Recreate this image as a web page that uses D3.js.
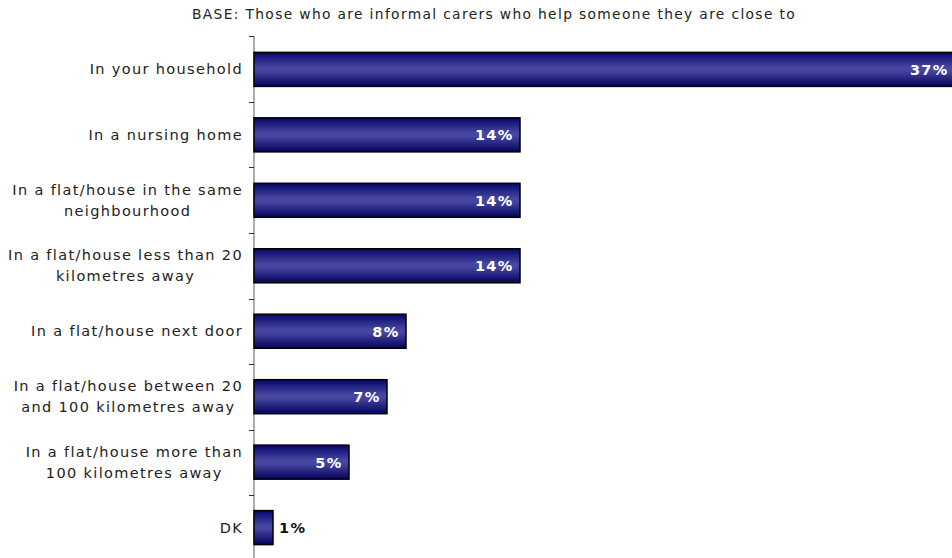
<!DOCTYPE html>
<html><head><meta charset="utf-8">
<script src="https://cdn.jsdelivr.net/npm/d3@7"></script>
<style>body{margin:0;background:#fff}svg{display:block}</style>
</head><body>
<script>
const title = "BASE: Those who are informal carers who help someone they are close to";
const categories = [
  ["In your household"],
  ["In a nursing home"],
  ["In a flat/house in the same", "neighbourhood"],
  ["In a flat/house less than 20", "kilometres away"],
  ["In a flat/house next door "],
  ["In a flat/house between 20", "and 100 kilometres away"],
  ["In a flat/house more than", "100 kilometres away"],
  ["DK"]
];
const values = [37, 14, 14, 14, 8, 7, 5, 1];
const valueLabels = ["37%", "14%", "14%", "14%", "8%", "7%", "5%", "1%"];

const W = 952, H = 558;
const svg = d3.select("body").append("svg").attr("width", W).attr("height", H);
const font = "'DejaVu Sans', Verdana, sans-serif";

const defs = svg.append("defs");
const g = defs.append("linearGradient").attr("id", "barGrad").attr("x1", 0).attr("y1", 0).attr("x2", 0).attr("y2", 1);
g.append("stop").attr("offset", "0%").attr("stop-color", "#06066a");
g.append("stop").attr("offset", "45%").attr("stop-color", "#4747a2");
g.append("stop").attr("offset", "55%").attr("stop-color", "#4545a0");
g.append("stop").attr("offset", "100%").attr("stop-color", "#03035e");

const x0 = 254;
const x = d3.scaleLinear().domain([0, 40]).range([x0, x0 + 760]);
const y = d3.scaleBand().domain(d3.range(categories.length)).range([36, 561]).paddingInner(0.48).paddingOuter(0.25);
const yTicks = d3.scaleBand().domain(d3.range(categories.length)).range([36, 561]);

svg.append("text").attr("x", 494).attr("y", 19).attr("text-anchor", "middle")
  .attr("font-family", font).attr("font-size", 13.8).attr("letter-spacing", 1.35).attr("fill", "#222").text(title);

// axis
svg.append("line").attr("x1", x0).attr("x2", x0).attr("y1", 36).attr("y2", 561).attr("stroke", "#777").attr("stroke-width", 1.2);
svg.selectAll("line.tick").data(d3.range(categories.length + 1)).join("line").attr("class", "tick")
  .attr("x1", x0 - 5).attr("x2", x0)
  .attr("y1", i => Math.round(36 + i * yTicks.step()) + 0.5)
  .attr("y2", i => Math.round(36 + i * yTicks.step()) + 0.5)
  .attr("stroke", "#333").attr("stroke-width", 1);

// bars
svg.selectAll("rect.bar").data(values).join("rect").attr("class", "bar")
  .attr("x", x(0)).attr("y", (d, i) => y(i))
  .attr("width", d => x(d) - x(0)).attr("height", y.bandwidth())
  .attr("fill", "url(#barGrad)").attr("stroke", "#000").attr("stroke-width", 1.5);

// value labels
svg.selectAll("text.val").data(values).join("text").attr("class", "val")
  .attr("x", (d, i) => d >= 3 ? Math.min(x(d), 955) - 6.5 : x(d) + 6)
  .attr("y", (d, i) => y(i) + y.bandwidth() / 2 + 5.5)
  .attr("text-anchor", d => d >= 3 ? "end" : "start")
  .attr("font-family", font).attr("font-size", 14.5).attr("font-weight", "bold").attr("letter-spacing", 1.3)
  .attr("fill", d => d >= 3 ? "#fff" : "#111")
  .text((d, i) => valueLabels[i]);

// category labels
const labelRight = 243;
categories.forEach((lines, i) => {
  const cy = y(i) + y.bandwidth() / 2;
  const lh = 21;
  const t = svg.append("text").attr("font-family", font).attr("font-size", 14.5).attr("letter-spacing", 1.35)
    .attr("fill", "#222").attr("text-anchor", "middle");
  const tsp = lines.map((ln, k) => t.append("tspan").attr("x", 0)
    .attr("y", cy + 5 + (k - (lines.length - 1) / 2) * lh).text(ln));
  const maxW = d3.max(tsp, s => s.node().getComputedTextLength());
  tsp.forEach(s => s.attr("x", labelRight - maxW / 2));
});
</script>
</body></html>
